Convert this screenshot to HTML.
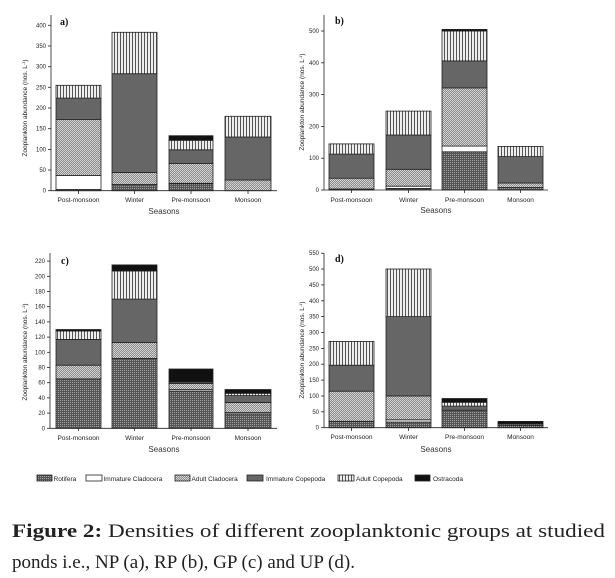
<!DOCTYPE html>
<html><head><meta charset="utf-8"><style>
html,body{margin:0;padding:0;background:#fff;width:615px;height:578px;overflow:hidden}
svg{display:block}
.t{font-family:"Liberation Sans",sans-serif;font-size:6px;fill:#222}
.tl{font-family:"Liberation Sans",sans-serif;font-size:6.5px;fill:#222}
.s{font-family:"Liberation Sans",sans-serif;font-size:8px;fill:#333}
.p{font-family:"Liberation Serif",serif;font-size:10px;font-weight:bold;fill:#111}
.cap{font-family:"Liberation Serif",serif;font-size:19px;fill:#222}
rect.b{stroke:#222;stroke-width:0.8}
line{stroke:#222;stroke-width:0.8}
</style></head><body>
<svg width="615" height="578" viewBox="0 0 615 578" xmlns="http://www.w3.org/2000/svg">
<defs>
<pattern id="R" width="2" height="2" patternUnits="userSpaceOnUse"><rect width="2" height="2" fill="#555"/><rect width="1" height="1" fill="#a0a0a0"/></pattern>
<pattern id="A" width="2" height="2" patternUnits="userSpaceOnUse"><rect width="2" height="2" fill="#8a8a8a"/><rect width="1" height="1" fill="#d8d8d8"/><rect x="1" y="1" width="1" height="1" fill="#d0d0d0"/></pattern>
<pattern id="V" width="3" height="3" patternUnits="userSpaceOnUse"><rect width="3" height="3" fill="#eee"/><rect width="1" height="3" fill="#555"/></pattern>
</defs>
<g fill="#666">
<!-- Panel a -->
<rect class="b" x="56" y="189.5" width="45" height="1.2" fill="url(#R)"/>
<rect class="b" x="56" y="175.4" width="45" height="14.1" fill="#fff"/>
<rect class="b" x="56" y="119.6" width="45" height="55.8" fill="url(#A)"/>
<rect class="b" x="56" y="98.1" width="45" height="21.5" fill="#666"/>
<rect class="b" x="56" y="85.3" width="45" height="12.8" fill="url(#V)"/>
<rect class="b" x="112" y="184.5" width="45" height="6.2" fill="url(#R)"/>
<rect class="b" x="112" y="172.5" width="45" height="12" fill="url(#A)"/>
<rect class="b" x="112" y="73.7" width="45" height="98.8" fill="#666"/>
<rect class="b" x="112" y="32.3" width="45" height="41.4" fill="url(#V)"/>
<rect class="b" x="169" y="183.7" width="44" height="7" fill="url(#R)"/>
<rect class="b" x="169" y="163.4" width="44" height="19.9" fill="url(#A)"/>
<rect class="b" x="169" y="149.8" width="44" height="13.6" fill="#666"/>
<rect class="b" x="169" y="140.3" width="44" height="9.5" fill="url(#V)"/>
<rect class="b" x="169" y="135.7" width="44" height="4.6" fill="#111"/>
<rect class="b" x="225" y="180" width="46" height="10.7" fill="url(#A)"/>
<rect class="b" x="225" y="137" width="46" height="43" fill="#666"/>
<rect class="b" x="225" y="116.3" width="46" height="20.7" fill="url(#V)"/>
<!-- Panel b -->
<rect class="b" x="329" y="189" width="45" height="1" fill="url(#R)"/>
<rect class="b" x="329" y="178.2" width="45" height="10.8" fill="url(#A)"/>
<rect class="b" x="329" y="154.1" width="45" height="24.1" fill="#666"/>
<rect class="b" x="329" y="143.9" width="45" height="10.2" fill="url(#V)"/>
<rect class="b" x="386" y="188.4" width="45" height="1.6" fill="url(#R)"/>
<rect class="b" x="386" y="186.2" width="45" height="2.2" fill="#fff"/>
<rect class="b" x="386" y="169.3" width="45" height="16.9" fill="url(#A)"/>
<rect class="b" x="386" y="135" width="45" height="34.3" fill="#666"/>
<rect class="b" x="386" y="111.1" width="45" height="23.9" fill="url(#V)"/>
<rect class="b" x="442" y="151.8" width="45" height="38.2" fill="url(#R)"/>
<rect class="b" x="442" y="146.1" width="45" height="5.7" fill="#fff"/>
<rect class="b" x="442" y="87.9" width="45" height="58.2" fill="url(#A)"/>
<rect class="b" x="442" y="60.9" width="45" height="27" fill="#666"/>
<rect class="b" x="442" y="31" width="45" height="29.9" fill="url(#V)"/>
<rect class="b" x="442" y="29.4" width="45" height="1.6" fill="#111"/>
<rect class="b" x="498" y="187.5" width="45" height="2.5" fill="url(#R)"/>
<rect class="b" x="498" y="183" width="45" height="4.5" fill="url(#A)"/>
<rect class="b" x="498" y="156.6" width="45" height="26.4" fill="#666"/>
<rect class="b" x="498" y="146.4" width="45" height="10.2" fill="url(#V)"/>
<!-- Panel c -->
<rect class="b" x="56" y="378.9" width="45" height="49.4" fill="url(#R)"/>
<rect class="b" x="56" y="365.2" width="45" height="13.7" fill="url(#A)"/>
<rect class="b" x="56" y="339.4" width="45" height="25.8" fill="#666"/>
<rect class="b" x="56" y="331" width="45" height="8.4" fill="url(#V)"/>
<rect class="b" x="56" y="329.5" width="45" height="1.5" fill="#111"/>
<rect class="b" x="112" y="358.4" width="45" height="69.9" fill="url(#R)"/>
<rect class="b" x="112" y="342.4" width="45" height="16" fill="url(#A)"/>
<rect class="b" x="112" y="299.1" width="45" height="43.3" fill="#666"/>
<rect class="b" x="112" y="271" width="45" height="28.1" fill="url(#V)"/>
<rect class="b" x="112" y="264.9" width="45" height="6.1" fill="#111"/>
<rect class="b" x="169" y="391.1" width="44" height="37.2" fill="url(#R)"/>
<rect class="b" x="169" y="389.5" width="44" height="1.5" fill="#fff"/>
<rect class="b" x="169" y="383.5" width="44" height="6.1" fill="url(#A)"/>
<rect class="b" x="169" y="382" width="44" height="1.5" fill="#666"/>
<rect class="b" x="169" y="369" width="44" height="13" fill="#111"/>
<rect class="b" x="225" y="413.9" width="46" height="14.4" fill="url(#R)"/>
<rect class="b" x="225" y="412.3" width="46" height="1.5" fill="#fff"/>
<rect class="b" x="225" y="402.5" width="46" height="9.9" fill="url(#A)"/>
<rect class="b" x="225" y="395.6" width="46" height="6.8" fill="#666"/>
<rect class="b" x="225" y="393.3" width="46" height="2.3" fill="url(#V)"/>
<rect class="b" x="225" y="389.5" width="46" height="3.8" fill="#111"/>
<!-- Panel d -->
<rect class="b" x="329" y="421.4" width="45" height="6.3" fill="url(#R)"/>
<rect class="b" x="329" y="391.2" width="45" height="30.1" fill="url(#A)"/>
<rect class="b" x="329" y="365.2" width="45" height="26" fill="#666"/>
<rect class="b" x="329" y="341.4" width="45" height="23.8" fill="url(#V)"/>
<rect class="b" x="386" y="422" width="45" height="5.7" fill="url(#R)"/>
<rect class="b" x="386" y="419.8" width="45" height="2.2" fill="#fff"/>
<rect class="b" x="386" y="396" width="45" height="23.8" fill="url(#A)"/>
<rect class="b" x="386" y="316.6" width="45" height="79.3" fill="#666"/>
<rect class="b" x="386" y="269" width="45" height="47.6" fill="url(#V)"/>
<rect class="b" x="442" y="410.2" width="45" height="17.5" fill="url(#R)"/>
<rect class="b" x="442" y="406.1" width="45" height="4.1" fill="#666"/>
<rect class="b" x="442" y="402.3" width="45" height="3.8" fill="url(#V)"/>
<rect class="b" x="442" y="398.5" width="45" height="3.8" fill="#111"/>
<rect class="b" x="498" y="425.2" width="45" height="2.5" fill="url(#R)"/>
<rect class="b" x="498" y="423.9" width="45" height="1.3" fill="url(#A)"/>
<rect class="b" x="498" y="421.4" width="45" height="2.5" fill="#111"/>
</g>
<!-- Axes -->
<g>
<line x1="51" y1="15" x2="51" y2="190.7"/><line x1="51" y1="190.7" x2="277" y2="190.7"/>
<line x1="324" y1="15" x2="324" y2="190"/><line x1="324" y1="190" x2="548" y2="190"/>
<line x1="50" y1="253" x2="50" y2="428.3"/><line x1="50" y1="428.3" x2="277" y2="428.3"/>
<line x1="324" y1="253" x2="324" y2="427.7"/><line x1="324" y1="427.7" x2="548" y2="427.7"/>
<!-- x ticks -->
<line x1="78.5" y1="190.7" x2="78.5" y2="194"/><line x1="134.5" y1="190.7" x2="134.5" y2="194"/><line x1="191" y1="190.7" x2="191" y2="194"/><line x1="248" y1="190.7" x2="248" y2="194"/>
<line x1="351.5" y1="190" x2="351.5" y2="193"/><line x1="408.5" y1="190" x2="408.5" y2="193"/><line x1="464.5" y1="190" x2="464.5" y2="193"/><line x1="520.5" y1="190" x2="520.5" y2="193"/>
<line x1="78.5" y1="428.3" x2="78.5" y2="431"/><line x1="134.5" y1="428.3" x2="134.5" y2="431"/><line x1="191" y1="428.3" x2="191" y2="431"/><line x1="248" y1="428.3" x2="248" y2="431"/>
<line x1="351.5" y1="427.7" x2="351.5" y2="431"/><line x1="408.5" y1="427.7" x2="408.5" y2="431"/><line x1="464.5" y1="427.7" x2="464.5" y2="431"/><line x1="520.5" y1="427.7" x2="520.5" y2="431"/>
<!-- y ticks a -->
<g><line x1="48" y1="190.7" x2="51" y2="190.7"/><line x1="48" y1="170" x2="51" y2="170"/><line x1="48" y1="149.4" x2="51" y2="149.4"/><line x1="48" y1="128.7" x2="51" y2="128.7"/><line x1="48" y1="108" x2="51" y2="108"/><line x1="48" y1="87.3" x2="51" y2="87.3"/><line x1="48" y1="66.7" x2="51" y2="66.7"/><line x1="48" y1="46" x2="51" y2="46"/><line x1="48" y1="25.3" x2="51" y2="25.3"/></g>
<g><line x1="321" y1="190" x2="324" y2="190"/><line x1="321" y1="158.2" x2="324" y2="158.2"/><line x1="321" y1="126.4" x2="324" y2="126.4"/><line x1="321" y1="94.6" x2="324" y2="94.6"/><line x1="321" y1="62.8" x2="324" y2="62.8"/><line x1="321" y1="31" x2="324" y2="31"/></g>
<g><line x1="47" y1="428.3" x2="50" y2="428.3"/><line x1="47" y1="413.1" x2="50" y2="413.1"/><line x1="47" y1="397.9" x2="50" y2="397.9"/><line x1="47" y1="382.7" x2="50" y2="382.7"/><line x1="47" y1="367.5" x2="50" y2="367.5"/><line x1="47" y1="352.3" x2="50" y2="352.3"/><line x1="47" y1="337.1" x2="50" y2="337.1"/><line x1="47" y1="321.9" x2="50" y2="321.9"/><line x1="47" y1="306.7" x2="50" y2="306.7"/><line x1="47" y1="291.5" x2="50" y2="291.5"/><line x1="47" y1="276.3" x2="50" y2="276.3"/><line x1="47" y1="261.1" x2="50" y2="261.1"/></g>
<g><line x1="321" y1="427.7" x2="324" y2="427.7"/><line x1="321" y1="411.8" x2="324" y2="411.8"/><line x1="321" y1="396" x2="324" y2="396"/><line x1="321" y1="380.1" x2="324" y2="380.1"/><line x1="321" y1="364.2" x2="324" y2="364.2"/><line x1="321" y1="348.4" x2="324" y2="348.4"/><line x1="321" y1="332.5" x2="324" y2="332.5"/><line x1="321" y1="316.6" x2="324" y2="316.6"/><line x1="321" y1="300.8" x2="324" y2="300.8"/><line x1="321" y1="284.9" x2="324" y2="284.9"/><line x1="321" y1="269" x2="324" y2="269"/><line x1="321" y1="253.2" x2="324" y2="253.2"/></g>
</g>
<!-- y tick labels -->
<g class="t" text-anchor="end">
<text x="46" y="192.7">0</text><text x="46" y="172">50</text><text x="46" y="151.4">100</text><text x="46" y="130.7">150</text><text x="46" y="110">200</text><text x="46" y="89.3">250</text><text x="46" y="68.7">300</text><text x="46" y="48">350</text><text x="46" y="27.3">400</text>
<text x="319" y="192">0</text><text x="319" y="160.2">100</text><text x="319" y="128.4">200</text><text x="319" y="96.6">300</text><text x="319" y="64.8">400</text><text x="319" y="33">500</text>
<text x="45" y="430.3">0</text><text x="45" y="415.1">20</text><text x="45" y="399.9">40</text><text x="45" y="384.7">60</text><text x="45" y="369.5">80</text><text x="45" y="354.3">100</text><text x="45" y="339.1">120</text><text x="45" y="323.9">140</text><text x="45" y="308.7">160</text><text x="45" y="293.5">180</text><text x="45" y="278.3">200</text><text x="45" y="263.1">220</text>
<text x="319" y="429.7">0</text><text x="319" y="413.8">50</text><text x="319" y="398">100</text><text x="319" y="382.1">150</text><text x="319" y="366.2">200</text><text x="319" y="350.4">250</text><text x="319" y="334.5">300</text><text x="319" y="318.6">350</text><text x="319" y="302.8">400</text><text x="319" y="286.9">450</text><text x="319" y="271">500</text><text x="319" y="255.2">550</text>
</g>
<!-- x tick labels -->
<g class="tl" text-anchor="middle">
<text x="78.5" y="202">Post-monsoon</text><text x="134.5" y="202">Winter</text><text x="191" y="202">Pre-monsoon</text><text x="248" y="202">Monsoon</text>
<text x="351.5" y="202">Post-monsoon</text><text x="408.5" y="202">Winter</text><text x="464.5" y="202">Pre-monsoon</text><text x="520.5" y="202">Monsoon</text>
<text x="78.5" y="440">Post-monsoon</text><text x="134.5" y="440">Winter</text><text x="191" y="440">Pre-monsoon</text><text x="248" y="440">Monsoon</text>
<text x="351.5" y="439">Post-monsoon</text><text x="408.5" y="439">Winter</text><text x="464.5" y="439">Pre-monsoon</text><text x="520.5" y="439">Monsoon</text>
</g>
<g class="s" text-anchor="middle">
<text x="164" y="214">Seasons</text><text x="436" y="213">Seasons</text>
<text x="164" y="452">Seasons</text><text x="436" y="452">Seasons</text>
</g>
<g class="tl" text-anchor="middle">
<text transform="translate(27,108) rotate(-90)">Zooplankton abundance (nos. L<tspan dy="-2" font-size="4">-1</tspan><tspan dy="2">)</tspan></text>
<text transform="translate(304,102) rotate(-90)">Zooplankton abundance (nos. L<tspan dy="-2" font-size="4">-1</tspan><tspan dy="2">)</tspan></text>
<text transform="translate(27,352) rotate(-90)">Zooplankton abundance (nos. L<tspan dy="-2" font-size="4">-1</tspan><tspan dy="2">)</tspan></text>
<text transform="translate(304,350) rotate(-90)">Zooplankton abundance (nos. L<tspan dy="-2" font-size="4">-1</tspan><tspan dy="2">)</tspan></text>
</g>
<g class="p">
<text x="60" y="25">a)</text><text x="335" y="24">b)</text><text x="61" y="264">c)</text><text x="335" y="262">d)</text>
</g>
<!-- legend -->
<g>
<rect class="b" x="37" y="475" width="15" height="6" fill="url(#R)"/>
<rect class="b" x="86" y="475" width="16" height="6" fill="#fff"/>
<rect class="b" x="175" y="475" width="15" height="6" fill="url(#A)"/>
<rect class="b" x="247" y="475" width="16" height="6" fill="#666"/>
<rect class="b" x="338" y="475" width="16" height="6" fill="url(#V)"/>
<rect class="b" x="415" y="475" width="15" height="6" fill="#111"/>
</g>
<g class="tl">
<text x="53.5" y="481">Rotifera</text><text x="103.5" y="481">Immature Cladocera</text><text x="191.5" y="481">Adult Cladocera</text><text x="266" y="481">Immature Copepoda</text><text x="356" y="481">Adult Copepoda</text><text x="433" y="481">Ostracoda</text>
</g>
<g class="cap">
<text x="12" y="537" textLength="593" lengthAdjust="spacingAndGlyphs"><tspan font-weight="bold">Figure 2:</tspan> Densities of different zooplanktonic groups at studied</text>
<text x="12" y="568" textLength="343" lengthAdjust="spacingAndGlyphs">ponds i.e., NP (a), RP (b), GP (c) and UP (d).</text>
</g>
</svg>
</body></html>
